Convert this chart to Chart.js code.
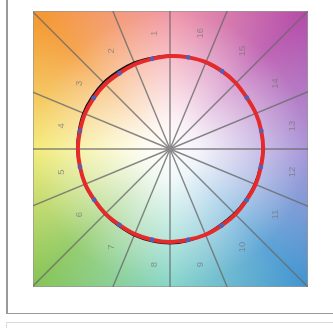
<!DOCTYPE html>
<html>
<head>
<meta charset="utf-8">
<script src="https://cdn.jsdelivr.net/npm/chart.js@4"></script>
<style>
  html, body { margin: 0; padding: 0; background: #fff; }
  body { width: 333px; height: 328px; position: relative; overflow: hidden; }
  #c { position: absolute; left: 0; top: 0; }
  .ln { position: absolute; }
</style>
</head>
<body>
<div class="ln" style="left:6px;top:0;width:1.5px;height:314px;background:#9a9a9a"></div>
<div class="ln" style="left:6px;top:312.5px;width:327px;height:1.5px;background:#9a9a9a"></div>
<div class="ln" style="left:6px;top:322px;width:327px;height:1px;background:#dcdcdc"></div>
<div class="ln" style="left:6px;top:322px;width:1px;height:6px;background:#dcdcdc"></div>
<canvas id="c" width="333" height="328"></canvas>
<script>
// Categories in reading order (counter-clockwise from top)
const categories = ['1','2','3','4','5','6','7','8','9','10','11','12','13','14','15','16'];
// Red series values (scale 0..1)
const redValues   = [0.671, 0.665, 0.670, 0.670, 0.670, 0.666, 0.666, 0.675, 0.676, 0.674, 0.672, 0.676, 0.679, 0.674, 0.683, 0.682];
// Black series values
const blackValues = [0.680, 0.684, 0.686, 0.680, 0.672, 0.668, 0.676, 0.686, 0.684, 0.664, 0.664, 0.670, 0.677, 0.672, 0.678, 0.680];
const scaleMin = 0;
const scaleMax = 1;

// Chart.js runs clockwise; the reference runs counter-clockwise, so reverse.
const labels = categories.slice().reverse();
const red = redValues.slice().reverse();
const black = blackValues.slice().reverse();

const backdrop = {
  id: 'backdrop',
  beforeDatasetsDraw(chart) {
    const ctx = chart.ctx;
    const a = chart.chartArea;
    const s = chart.scales.r;
    const cx = s.xCenter, cy = s.yCenter;
    const w = a.right - a.left, h = a.bottom - a.top;
    ctx.save();
    // hue wheel
    const g = ctx.createConicGradient(-Math.PI / 2, cx, cy);
    g.addColorStop(0.000, '#f0869a');
    g.addColorStop(0.125, '#b44aa8');
    g.addColorStop(0.250, '#9c84d2');
    g.addColorStop(0.375, '#4094d0');
    g.addColorStop(0.500, '#72cfc0');
    g.addColorStop(0.625, '#84c454');
    g.addColorStop(0.750, '#f2e862');
    g.addColorStop(0.875, '#f4962e');
    g.addColorStop(1.000, '#f0869a');
    ctx.fillStyle = g;
    ctx.fillRect(a.left, a.top, w, h);
    const rg = ctx.createRadialGradient(cx, cy, 0, cx, cy, Math.hypot(w, h) / 2);
    rg.addColorStop(0.00, 'rgba(255,255,255,1)');
    rg.addColorStop(0.15, 'rgba(255,255,255,0.9)');
    rg.addColorStop(0.45, 'rgba(255,255,255,0.5)');
    rg.addColorStop(0.70, 'rgba(255,255,255,0.15)');
    rg.addColorStop(1.00, 'rgba(255,255,255,0)');
    ctx.fillStyle = rg;
    ctx.fillRect(a.left, a.top, w, h);
    ctx.strokeStyle = 'rgba(150,150,150,0.7)';
    ctx.lineWidth = 1;
    ctx.strokeRect(a.left + 0.5, a.top + 0.5, w - 1, h - 1);
    // spokes between categories
    ctx.beginPath();
    ctx.rect(a.left, a.top, w, h);
    ctx.clip();
    ctx.strokeStyle = 'rgba(105,105,105,0.8)';
    ctx.lineWidth = 1.4;
    const n = labels.length;
    for (let i = 0; i < n; i++) {
      const p = s.getPointPosition(i + 0.5, 400);
      ctx.beginPath();
      ctx.moveTo(cx, cy);
      ctx.lineTo(p.x, p.y);
      ctx.stroke();
    }
    // center dot
    ctx.fillStyle = 'rgba(140,140,140,0.9)';
    ctx.beginPath();
    ctx.arc(cx, cy, 3.5, 0, Math.PI * 2);
    ctx.fill();
    // labels
    ctx.fillStyle = 'rgba(115,115,115,0.7)';
    ctx.font = '9.5px "Liberation Sans", Arial, sans-serif';
    ctx.textAlign = 'center';
    ctx.textBaseline = 'middle';
    for (let i = 0; i < n; i++) {
      const p = s.getPointPosition(i, 118);
      ctx.save();
      ctx.translate(p.x + 7, p.y);
      ctx.rotate(-Math.PI / 2);
      ctx.fillText(labels[i], 0, 0);
      ctx.restore();
    }
    ctx.restore();
  }
};

new Chart(document.getElementById('c'), {
  type: 'radar',
  data: {
    labels: labels,
    datasets: [
      {
        data: red,
        borderColor: '#e52a2c',
        borderWidth: 4,
        backgroundColor: 'rgba(0,0,0,0)',
        fill: false,
        tension: 0.4,
        pointRadius: 2.4,
        pointBorderWidth: 0,
        pointBackgroundColor: '#5060b8',
        order: 1
      },
      {
        data: black,
        borderColor: '#111',
        borderWidth: 2,
        backgroundColor: 'rgba(0,0,0,0)',
        fill: false,
        tension: 0.4,
        pointRadius: 0,
        order: 2
      }
    ]
  },
  options: {
    responsive: false,
    animation: false,
    layout: { padding: { left: 33, top: 11, right: 25, bottom: 41 } },
    plugins: { legend: { display: false }, tooltip: { enabled: false } },
    scales: {
      r: {
        min: scaleMin,
        max: scaleMax,
        startAngle: 11.25,
        ticks: { display: false },
        grid: { display: false },
        angleLines: { display: false },
        pointLabels: { display: false }
      }
    }
  },
  plugins: [backdrop]
});
</script>
</body>
</html>
